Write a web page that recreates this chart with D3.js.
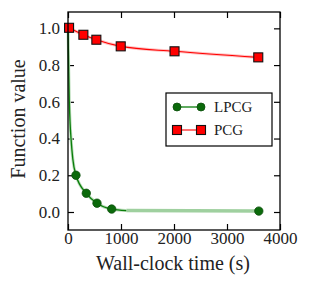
<!DOCTYPE html>
<html>
<head>
<meta charset="utf-8">
<script src="https://cdn.jsdelivr.net/npm/d3@7.9.0/dist/d3.min.js"></script>
<style>
  body { margin: 0; background: #fff; }
</style>
</head>
<body>
<svg id="chart" width="312" height="291"></svg>
<script>
// ---- data ----
const pcgTime = [20, 290, 535, 995, 2010, 3590];
const pcgValue = [1.003, 0.965, 0.938, 0.902, 0.875, 0.842];

const lpcgMarkTime = [150, 345, 547, 824, 3600];
const lpcgMarkValue = [0.2, 0.102, 0.048, 0.016, 0.005];

// dense trace of the LPCG curve (early, fast-decaying part)
const lpcgCurveTime = [0, 5, 12, 25, 40, 57, 90, 150, 345, 547, 824, 1100];
const lpcgCurveValue = [1.0, 0.92, 0.8, 0.6, 0.48, 0.4, 0.29, 0.2, 0.102, 0.048, 0.016, 0.008];
// flat tail drawn in a faded, wider stroke
const lpcgTailTime = [1100, 3600];
const lpcgTailValue = [0.008, 0.005];

const xTicks = [0, 1000, 2000, 3000, 4000];
const yTicks = [0.0, 0.2, 0.4, 0.6, 0.8, 1.0];
const seriesNames = ['LPCG', 'PCG'];

// ---- layout ----
const FONT = 'Liberation Serif';
const svg = d3.select('#chart');
const m = { left: 68, right: 280, top: 12, bottom: 230 };

const x = d3.scaleLinear().domain([0, 4000]).range([m.left, m.right]);
const y = d3.scaleLinear().domain([-0.098, 1.089]).range([m.bottom, m.top]);

const green = '#0a7d0a';
const greenDark = '#0b6a0b';
const red = '#ff0000';

const pts = (xs, ys) => xs.map((t, i) => [x(t), y(ys[i])]);

// axes: inward ticks on all four sides
const tick = 6;
const axisB = d3.axisBottom(x).tickValues(xTicks).tickSizeInner(-tick).tickSizeOuter(0).tickPadding(2).tickFormat(d3.format('d'));
const axisT = d3.axisTop(x).tickValues(xTicks).tickSizeInner(-tick).tickSizeOuter(0).tickFormat('');
const axisL = d3.axisLeft(y).tickValues(yTicks).tickSizeInner(-tick).tickSizeOuter(0).tickPadding(8).tickFormat(d3.format('.1f'));
const axisR = d3.axisRight(y).tickValues(yTicks).tickSizeInner(-tick).tickSizeOuter(0).tickFormat('');

function styleAxis(g) {
  g.attr('font-family', FONT).attr('font-size', 17);
  g.select('.domain').remove();
  g.selectAll('line').attr('stroke', '#000').attr('stroke-width', 1.2);
  g.selectAll('text').attr('font-family', FONT).attr('font-size', 17).attr('fill', '#222');
}

svg.append('g').attr('transform', `translate(0,${m.bottom})`).call(axisB).call(styleAxis);
svg.append('g').attr('transform', `translate(0,${m.top})`).call(axisT).call(styleAxis);
svg.append('g').attr('transform', `translate(${m.left},0)`).call(axisL).call(styleAxis);
svg.append('g').attr('transform', `translate(${m.right},0)`).call(axisR).call(styleAxis);

// ---- lines ----
const line = d3.line().curve(d3.curveMonotoneX);

svg.append('path')
  .attr('d', line(pts(lpcgTailTime, lpcgTailValue)))
  .attr('fill', 'none').attr('stroke', '#9fd09f').attr('stroke-width', 3.5);

svg.append('path')
  .attr('d', line(pts(lpcgCurveTime, lpcgCurveValue)))
  .attr('fill', 'none').attr('stroke', '#b9ddb9').attr('stroke-width', 3);
svg.append('path')
  .attr('d', line(pts(lpcgCurveTime, lpcgCurveValue)))
  .attr('fill', 'none').attr('stroke', green).attr('stroke-width', 1.3);

svg.append('path')
  .attr('d', line(pts(pcgTime, pcgValue)))
  .attr('fill', 'none').attr('stroke', '#ffc4c4').attr('stroke-width', 3);
svg.append('path')
  .attr('d', line(pts(pcgTime, pcgValue)))
  .attr('fill', 'none').attr('stroke', red).attr('stroke-width', 1.1);

// ---- markers ----
svg.append('g').selectAll('circle')
  .data(pts(lpcgMarkTime, lpcgMarkValue))
  .join('circle')
  .attr('cx', d => d[0]).attr('cy', d => d[1]).attr('r', 4.2)
  .attr('fill', greenDark).attr('stroke', '#0d4f0d').attr('stroke-width', 0.8);

const sq = 9;
svg.append('g').selectAll('rect')
  .data(pts(pcgTime, pcgValue))
  .join('rect')
  .attr('x', d => d[0] - sq / 2).attr('y', d => d[1] - sq / 2)
  .attr('width', sq).attr('height', sq)
  .attr('fill', red).attr('stroke', '#111').attr('stroke-width', 1.1);

// frame
svg.append('rect')
  .attr('x', m.left).attr('y', m.top).attr('width', m.right - m.left).attr('height', m.bottom - m.top)
  .attr('fill', 'none').attr('stroke', '#000').attr('stroke-width', 1.3);

// ---- legend ----
const lg = svg.append('g').attr('transform', 'translate(166,93)');
lg.append('rect').attr('width', 106).attr('height', 53)
  .attr('fill', '#fff').attr('stroke', '#000').attr('stroke-width', 1.2);

seriesNames.forEach((name, i) => {
  const yy = 14 + i * 23;
  const row = lg.append('g').attr('transform', `translate(0,${yy})`);
  if (name === 'LPCG') {
    row.append('line').attr('x1', 11).attr('x2', 35).attr('stroke', green).attr('stroke-width', 1.3);
    [11, 35].forEach(cx => row.append('circle').attr('cx', cx).attr('r', 4)
      .attr('fill', greenDark).attr('stroke', '#0d4f0d').attr('stroke-width', 0.8));
  } else {
    row.append('line').attr('x1', 11).attr('x2', 35).attr('stroke', red).attr('stroke-width', 1.1);
    [11, 35].forEach(cx => row.append('rect').attr('x', cx - sq / 2).attr('y', -sq / 2)
      .attr('width', sq).attr('height', sq)
      .attr('fill', red).attr('stroke', '#111').attr('stroke-width', 1.1));
  }
  row.append('text').attr('x', 48).attr('y', 5)
    .attr('font-family', FONT).attr('font-size', 15).attr('fill', '#222').text(name);
});

// ---- axis titles ----
svg.append('text')
  .attr('x', (m.left + m.right) / 2 - 1).attr('y', 270)
  .attr('text-anchor', 'middle')
  .attr('font-family', FONT).attr('font-size', 20).attr('fill', '#222')
  .text('Wall-clock time (s)');

svg.append('text')
  .attr('transform', `translate(25,119) rotate(-90)`)
  .attr('text-anchor', 'middle')
  .attr('font-family', FONT).attr('font-size', 20).attr('fill', '#222')
  .text('Function value');
</script>
</body>
</html>
